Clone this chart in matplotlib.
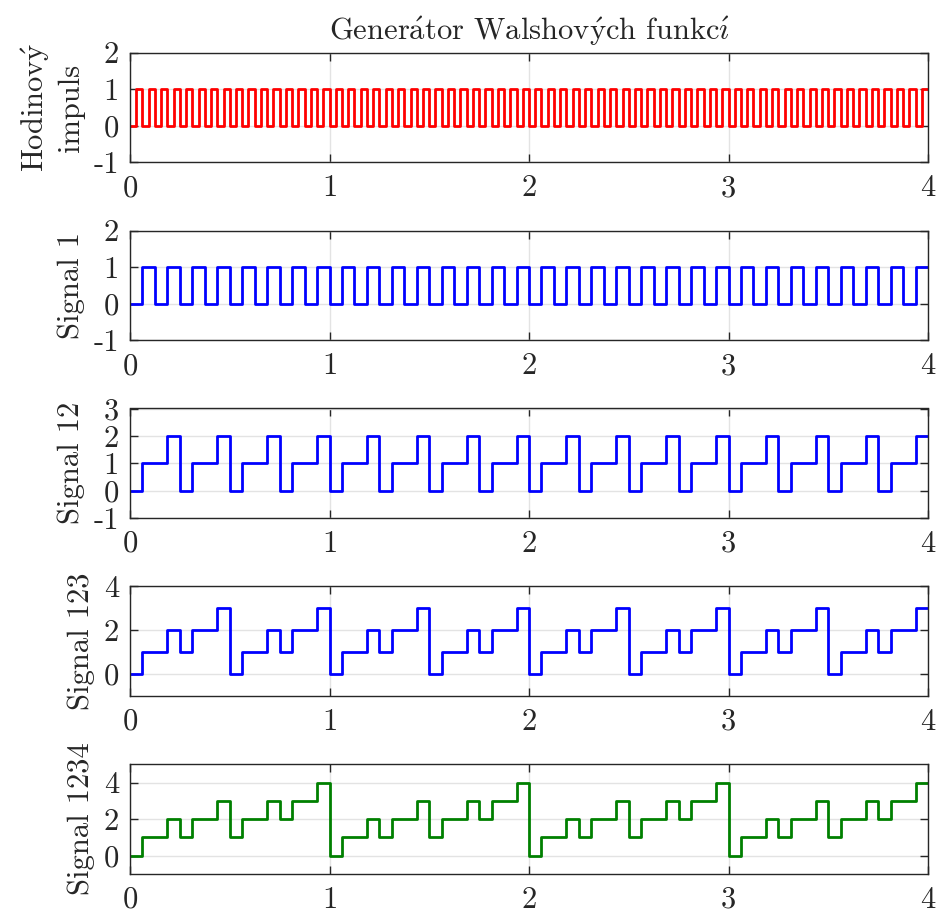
import numpy as np
import matplotlib.pyplot as plt

plt.rcParams['font.family'] = ['cmr10', 'DejaVu Serif']
plt.rcParams['mathtext.fontset'] = 'cm'
plt.rcParams['axes.unicode_minus'] = False
plt.rcParams['axes.formatter.use_mathtext'] = False

# Hodinovy impuls: perioda 1/16, krok 1/32
dt_clk = 1 / 32
clk = [0, 1] * 64

# Signaly, krok 1/16
dt = 1 / 16
sig1 = [0, 1] * 32
sig12 = [0, 1, 1, 2] * 16
sig123 = [0, 1, 1, 2, 1, 2, 2, 3] * 8
sig1234 = [0, 1, 1, 2, 1, 2, 2, 3, 1, 2, 2, 3, 2, 3, 3, 4] * 4

# cmr10 nema znaky s carkou -> akcenty pres mathtext
title = r'Gener$\acute{\mathrm{a}}$tor Walshov$\acute{\mathrm{y}}$ch funkc$\acute{\imath}$'
labels = ['Hodinov$\\acute{\\mathrm{y}}$\nimpuls', 'Signal 1', 'Signal 12', 'Signal 123', 'Signal 1234']
series = [clk, sig1, sig12, sig123, sig1234]
steps = [dt_clk, dt, dt, dt, dt]
colors = ['#ff0000', '#0000ff', '#0000ff', '#0000ff', '#008000']
ylims = [(-1, 2), (-1, 2), (-1, 3), (-1, 4), (-1, 5)]
yticks = [[-1, 0, 1, 2], [-1, 0, 1, 2], [-1, 0, 1, 2, 3], [0, 2, 4], [0, 2, 4]]

fig = plt.figure(figsize=(9.41, 9.16), dpi=100)
W, H = 941, 916
left, width = 130 / W, 798 / W
tops = [52.7, 230.6, 408.5, 586.4, 764.3]
h = 109.5

for i in range(5):
    ax = fig.add_axes([left, 1 - (tops[i] + h) / H, width, h / H])
    v = np.array(series[i] + [series[i][-1]], dtype=float)
    t = np.arange(len(v)) * steps[i]
    ax.step(t, v, where='post', color=colors[i], lw=2)
    ax.set_xlim(0, 4)
    ax.set_ylim(*ylims[i])
    ax.set_xticks([0, 1, 2, 3, 4])
    ax.set_yticks(yticks[i])
    ax.grid(True, color='#e3e3e3', lw=1)
    ax.set_axisbelow(True)
    ax.tick_params(direction='in', top=True, right=True, length=6,
                   labelsize=22, colors='#262626', pad=8, width=1)
    ax.tick_params(axis='x', pad=9)
    for s in ax.spines.values():
        s.set_color('#262626')
        s.set_linewidth(1)
    ax.set_ylabel(labels[i], fontsize=22, color='#262626', linespacing=1.25, labelpad=6)
    if i == 0:
        ax.set_title(title, fontsize=22, color='#262626', pad=9)

fig.savefig('out.png', dpi=100)
